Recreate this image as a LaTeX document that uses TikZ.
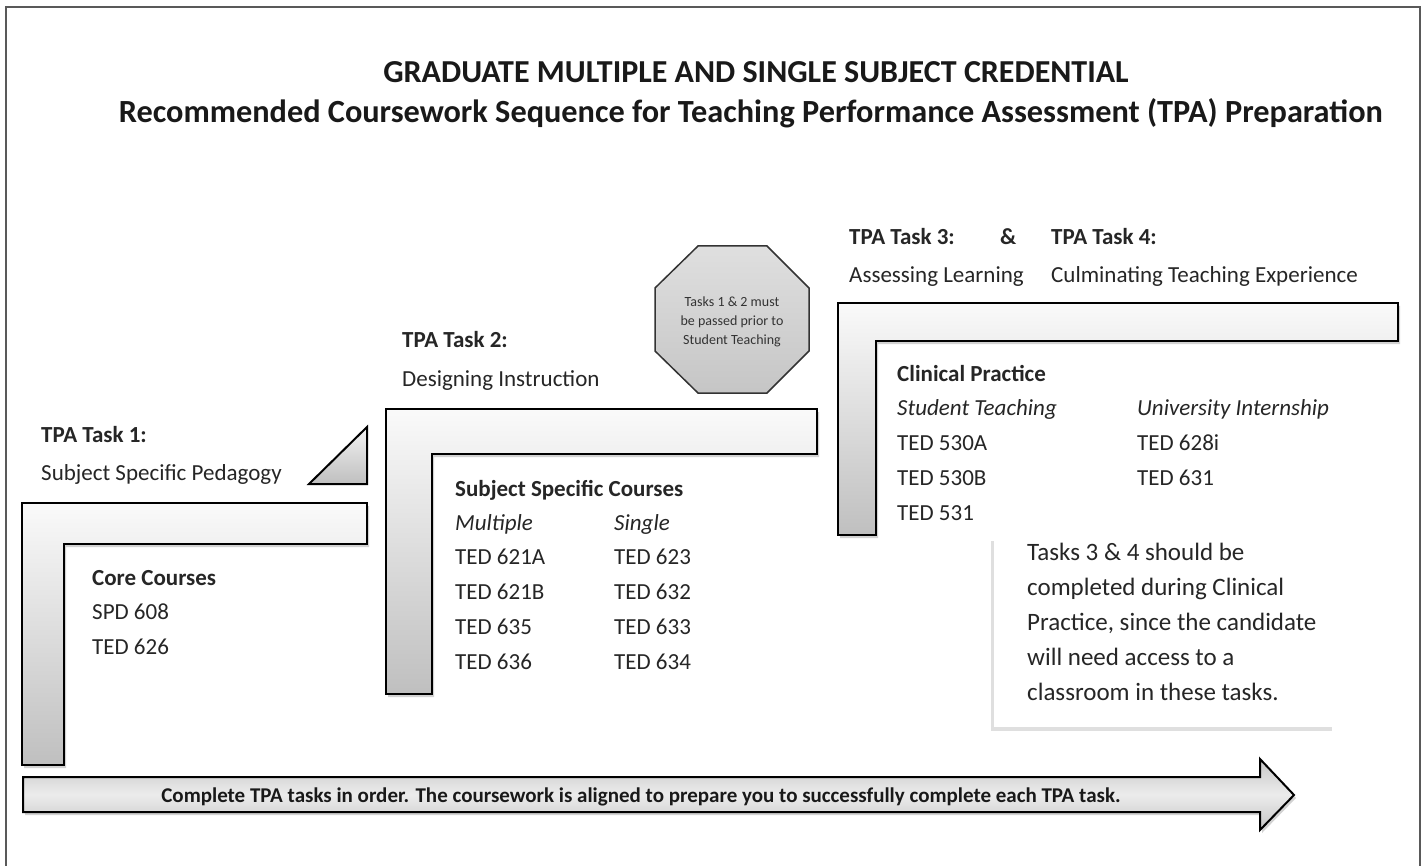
\documentclass[tikz,border=0pt]{standalone}
\usepackage{fontspec}
\setmainfont{Carlito}
\usetikzlibrary{shadows}
\begin{document}
\begin{tikzpicture}[x=1pt,y=-1pt,
  txt/.style={anchor=base west, inner sep=0pt, font=\fontsize{23}{27}\selectfont, text=black!85},
  txtb/.style={txt, font=\fontsize{23}{27}\selectfont\bfseries},
  txti/.style={txt, font=\fontsize{23}{27}\selectfont\itshape},
  notetxt/.style={txt, font=\fontsize{25}{29}\selectfont},
  ttl/.style={anchor=base, inner sep=0pt, font=\fontsize{32}{38}\selectfont\bfseries, text=black!90},
  lshape/.style={draw=black, line width=2pt, top color=gray!4, bottom color=gray!50,
    drop shadow={shadow xshift=2pt, shadow yshift=-3pt, opacity=0.35}},
  octo/.style={draw=black!80, line width=1.5pt, top color=gray!25, bottom color=gray!45},
  tri/.style={draw=black, line width=2pt, top color=gray!10, bottom color=gray!50},
  bigarrow/.style={draw=black, line width=2pt, top color=gray!45, bottom color=gray!45, middle color=gray!15,
    drop shadow={shadow xshift=2pt, shadow yshift=-3pt, opacity=0.35}},
  notebox/.style={fill=white, drop shadow={shadow xshift=-3pt, shadow yshift=-4pt, opacity=0.25}},
  small/.style={anchor=base, inner sep=0pt, font=\fontsize{14}{18}\selectfont, text=black!80}
]
\useasboundingbox (0,0) rectangle (1423,866);
\fill[white] (0,0) rectangle (1423,866);
% frame
\draw[line width=1.5pt, black!65] (6,866) -- (6,7) -- (1420,7) -- (1420,866);

% titles
\node[ttl] (t1) at (756,83) {GRADUATE MULTIPLE AND SINGLE SUBJECT CREDENTIAL};
\node[ttl, font=\fontsize{32.3}{38}\selectfont\bfseries] (t2) at (751,123) {Recommended Coursework Sequence for Teaching Performance Assessment (TPA) Preparation};

% L shapes
\path[lshape] (22,503) -- (367,503) -- (367,544) -- (64,544) -- (64,765) -- (22,765) -- cycle;
\path[lshape] (386,409) -- (817,409) -- (817,454) -- (432,454) -- (432,694) -- (386,694) -- cycle;
\path[lshape] (838,303) -- (1398,303) -- (1398,341) -- (876,341) -- (876,535) -- (838,535) -- cycle;

% triangle
\path[tri] (309,484) -- (367,484) -- (367,427) -- cycle;

% octagon
\path[octo] (698,246) -- (767,246) -- (809,288) -- (809,351) -- (767,393) -- (698,393) -- (655,351) -- (655,288) -- cycle;
\node[small] (o1) at (732,306) {Tasks 1 \& 2 must};
\node[small] (o2) at (732,325) {be passed prior to};
\node[small] (o3) at (732,344) {Student Teaching};

% task 1
\node[txtb] (k1) at (41,442) {TPA Task 1:};
\node[txt] (k1d) at (41,480) {Subject Specific Pedagogy};
\node[txtb] (c1) at (92,585) {Core Courses};
\node[txt] (c2) at (92,619) {SPD 608};
\node[txt] (c3) at (92,654) {TED 626};

% task 2
\node[txtb] (k2) at (402,347) {TPA Task 2:};
\node[txt] (k2d) at (402,386) {Designing Instruction};
\node[txtb] (s0) at (455,496) {Subject Specific Courses};
\node[txti] (sm) at (455,530) {Multiple};
\node[txti] (ss) at (614,530) {Single};
\node[txt] (m1) at (455,564) {TED 621A};
\node[txt] (m2) at (455,599) {TED 621B};
\node[txt] (m3) at (455,634) {TED 635};
\node[txt] (m4) at (455,669) {TED 636};
\node[txt] (n1) at (614,564) {TED 623};
\node[txt] (n2) at (614,599) {TED 632};
\node[txt] (n3) at (614,634) {TED 633};
\node[txt] (n4) at (614,669) {TED 634};

% task 3 & 4
\node[txtb] (k3) at (849,245) {TPA Task 3:};
\node[txtb] (amp) at (1000,245) {\&};
\node[txtb] (k4) at (1051,245) {TPA Task 4:};
\node[txt] (k3d) at (849,283) {Assessing Learning};
\node[txt] (k4d) at (1051,283) {Culminating Teaching Experience};
\node[txtb] (cp) at (897,381) {Clinical Practice};
\node[txti] (st) at (897,415) {Student Teaching};
\node[txti] (ui) at (1137,415) {University Internship};
\node[txt] (p1) at (897,450) {TED 530A};
\node[txt] (p2) at (897,485) {TED 530B};
\node[txt] (p3) at (897,520) {TED 531};
\node[txt] (q1) at (1137,450) {TED 628i};
\node[txt] (q2) at (1137,485) {TED 631};

% note box
\path[notebox] (994,537) rectangle (1335,727);
\node[notetxt] (b1) at (1027,560) {Tasks 3 \& 4 should be};
\node[notetxt] (b2) at (1027,595) {completed during Clinical};
\node[notetxt] (b3) at (1027,630) {Practice, since the candidate};
\node[notetxt] (b4) at (1027,665) {will need access to a};
\node[notetxt] (b5) at (1027,700) {classroom in these tasks.};

% big arrow
\path[bigarrow] (23,777) -- (1260,777) -- (1260,759) -- (1294,795) -- (1260,830) -- (1260,812) -- (23,812) -- cycle;
\node[anchor=base, inner sep=0pt, font=\fontsize{21}{25}\selectfont\bfseries, text=black!90] (arr) at (641,802)
  {Complete TPA tasks in order. The coursework is aligned to prepare you to successfully complete each TPA task.};
\end{tikzpicture}
\end{document}
